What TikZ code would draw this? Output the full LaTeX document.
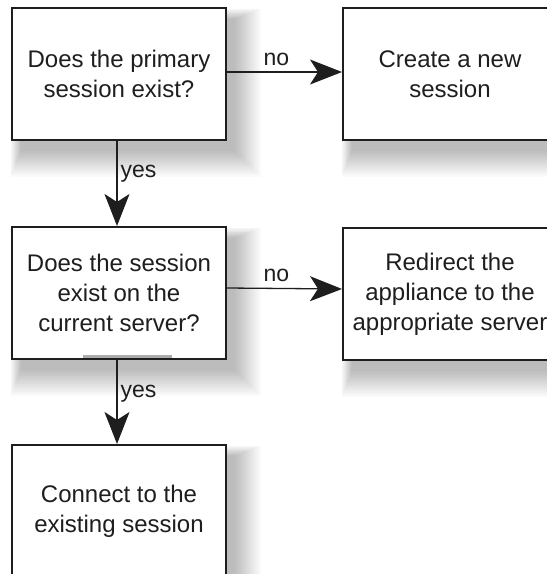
\documentclass[tikz,border=0pt]{standalone}
\usepackage{fontspec}
\setmainfont{Liberation Sans}
\usetikzlibrary{arrows.meta,backgrounds}
\definecolor{ink}{HTML}{1E1E1E}
% soft drop shadow built from stacked translucent rectangles,
% spreading mostly to the right and downwards
\newcommand\softshadow[1]{%
  \foreach \e in {0,2,...,26}{%
    \fill[black, opacity=0.018]
      ([shift={(10-0.4*\e,12-0.4*\e)}]#1.north west) rectangle ([shift={(8+\e,10+\e)}]#1.south east);
  }}
\begin{document}
\begin{tikzpicture}[x=1pt,y=-1pt,
  box/.style={draw=ink, line width=2pt, fill=white,
    minimum width=214pt, minimum height=132pt, inner sep=0pt,
    align=center, text=ink, font=\fontsize{24}{30}\selectfont},
  conn/.style={draw=ink, line width=1.3pt,
    -{Stealth[length=32pt, width=25pt, inset=8pt]}},
  lbl/.style={text=ink, font=\fontsize{23}{28}\selectfont, inner sep=1pt}]
  \useasboundingbox (0,0) rectangle (547,574);
  \clip (0,0) rectangle (547,574);

  % decision and action boxes
  \node[box] (q1)  at (119,74)  {Does the primary\\session exist?};
  \node[box] (new) at (450,74)  {Create a new\\session};
  \node[box] (q2)  at (119,293) {Does the session\\exist on the\\current server?};
  \node[box] (redir) at (450,294) {Redirect the\\appliance to the\\appropriate server};
  \node[box] (join) at (119,511) {Connect to the\\existing session};

  \begin{pgfonlayer}{background}
    \fill[white] (0,0) rectangle (547,574);
    \softshadow{q1}
    \softshadow{new}
    \softshadow{q2}
    \softshadow{redir}
    \softshadow{join}
  \end{pgfonlayer}

  % grey band along the lower edge of the second question
  \draw[gray!65, line width=3.5pt] ([xshift=-36pt,yshift=3.5pt]q2.south) -- ([xshift=53pt,yshift=3.5pt]q2.south);

  % connectors
  \draw[conn] ([yshift=2pt]q1.east) -- node[lbl, pos=0.43, above=5pt] {no} ([yshift=2pt]new.west);
  \draw[conn] ([yshift=5pt]q2.east) -- node[lbl, pos=0.43, above=5pt] {no} ([yshift=5pt]redir.west);
  \draw[conn] ([xshift=-2pt]q1.south) -- node[lbl, pos=0.38, right=2pt] {yes} ([xshift=-2pt]q2.north);
  \draw[conn] ([xshift=-2pt]q2.south) -- node[lbl, pos=0.4, right=2pt] {yes} ([xshift=-2pt]join.north);
\end{tikzpicture}
\end{document}
